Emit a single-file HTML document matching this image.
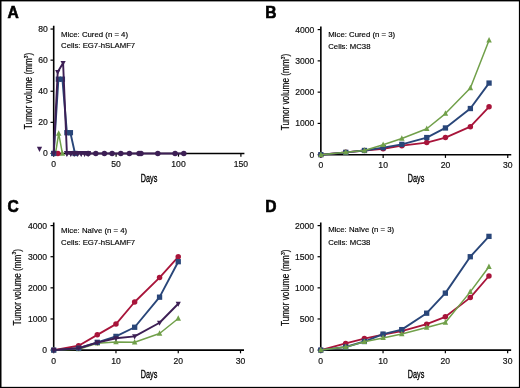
<!DOCTYPE html>
<html><head><meta charset="utf-8"><style>
html,body{margin:0;padding:0;background:#fff;}
svg{display:block;will-change:transform;}
</style></head><body>
<svg width="520" height="388" viewBox="0 0 520 388">
<rect x="0" y="0" width="520" height="388" fill="#fff"/>
<text x="7.4" y="18.0" font-family='"Liberation Sans", sans-serif' font-weight="bold" font-size="15.6" stroke="#000" stroke-width="0.6">A</text>
<path d="M53.70,25.85 L53.70,153.45 L244.40,153.45" fill="none" stroke="#000" stroke-width="1.6"/>
<line x1="53.70" y1="153.45" x2="53.70" y2="156.65" stroke="#000" stroke-width="1.2"/>
<text x="53.70" y="167.05" text-anchor="middle" font-family='"Liberation Sans", sans-serif' font-size="8.6" fill="#111" stroke="#111" stroke-width="0.18">0</text>
<line x1="116.10" y1="153.45" x2="116.10" y2="156.65" stroke="#000" stroke-width="1.2"/>
<text x="116.10" y="167.05" text-anchor="middle" font-family='"Liberation Sans", sans-serif' font-size="8.6" fill="#111" stroke="#111" stroke-width="0.18">50</text>
<line x1="178.50" y1="153.45" x2="178.50" y2="156.65" stroke="#000" stroke-width="1.2"/>
<text x="178.50" y="167.05" text-anchor="middle" font-family='"Liberation Sans", sans-serif' font-size="8.6" fill="#111" stroke="#111" stroke-width="0.18">100</text>
<line x1="240.90" y1="153.45" x2="240.90" y2="156.65" stroke="#000" stroke-width="1.2"/>
<text x="240.90" y="167.05" text-anchor="middle" font-family='"Liberation Sans", sans-serif' font-size="8.6" fill="#111" stroke="#111" stroke-width="0.18">150</text>
<line x1="50.50" y1="153.45" x2="53.70" y2="153.45" stroke="#000" stroke-width="1.2"/>
<text x="47.80" y="156.45" text-anchor="end" font-family='"Liberation Sans", sans-serif' font-size="8.6" fill="#111" stroke="#111" stroke-width="0.18">0</text>
<line x1="50.50" y1="122.35" x2="53.70" y2="122.35" stroke="#000" stroke-width="1.2"/>
<text x="47.80" y="125.35" text-anchor="end" font-family='"Liberation Sans", sans-serif' font-size="8.6" fill="#111" stroke="#111" stroke-width="0.18">20</text>
<line x1="50.50" y1="91.25" x2="53.70" y2="91.25" stroke="#000" stroke-width="1.2"/>
<text x="47.80" y="94.25" text-anchor="end" font-family='"Liberation Sans", sans-serif' font-size="8.6" fill="#111" stroke="#111" stroke-width="0.18">40</text>
<line x1="50.50" y1="60.15" x2="53.70" y2="60.15" stroke="#000" stroke-width="1.2"/>
<text x="47.80" y="63.15" text-anchor="end" font-family='"Liberation Sans", sans-serif' font-size="8.6" fill="#111" stroke="#111" stroke-width="0.18">60</text>
<line x1="50.50" y1="29.05" x2="53.70" y2="29.05" stroke="#000" stroke-width="1.2"/>
<text x="47.80" y="32.05" text-anchor="end" font-family='"Liberation Sans", sans-serif' font-size="8.6" fill="#111" stroke="#111" stroke-width="0.18">80</text>
<text x="61.10" y="36.70" font-family='"Liberation Sans", sans-serif' font-size="7.8" fill="#000" stroke="#000" stroke-width="0.15">Mice: Cured (n = 4)</text>
<text x="61.10" y="47.80" font-family='"Liberation Sans", sans-serif' font-size="7.75" fill="#000" stroke="#000" stroke-width="0.15">Cells: EG7-hSLAMF7</text>
<text transform="translate(140.80,182.20) scale(0.615,1)" font-family='"Liberation Sans", sans-serif' font-size="11.8" fill="#000" stroke="#000" stroke-width="0.35">Days</text>
<text transform="translate(32.20,90.90) rotate(-90) scale(0.8,1)" text-anchor="middle" font-family='"Liberation Sans", sans-serif' font-size="10.3" fill="#000" stroke="#000" stroke-width="0.2">Tumor volume (mm<tspan font-size="6.2" dy="-4.6">3</tspan><tspan dy="4.6">)</tspan></text>
<path d="M55.50,153.45 L58.70,133.60 L62.40,153.45" fill="none" stroke="#71a04a" stroke-width="1.5" stroke-linejoin="round"/>
<path d="M55.50,150.15 L58.25,155.65 L52.75,155.65Z" fill="#71a04a"/>
<path d="M58.70,130.30 L61.45,135.80 L55.95,135.80Z" fill="#71a04a"/>
<path d="M62.40,150.15 L65.15,155.65 L59.65,155.65Z" fill="#71a04a"/>
<path d="M57.90,153.45" fill="none" stroke="#a8143a" stroke-width="1.8" stroke-linejoin="round"/>
<circle cx="57.90" cy="153.45" r="2.75" fill="#a8143a"/>
<path d="M53.70,153.45 L58.40,79.20 L62.40,79.20 L66.90,132.70 L70.40,132.70 L75.00,153.45" fill="none" stroke="#294679" stroke-width="1.9" stroke-linejoin="round"/>
<rect x="51.05" y="150.80" width="5.30" height="5.30" fill="#294679"/>
<rect x="55.75" y="76.55" width="5.30" height="5.30" fill="#294679"/>
<rect x="59.75" y="76.55" width="5.30" height="5.30" fill="#294679"/>
<rect x="64.25" y="130.05" width="5.30" height="5.30" fill="#294679"/>
<rect x="67.75" y="130.05" width="5.30" height="5.30" fill="#294679"/>
<rect x="72.35" y="150.80" width="5.30" height="5.30" fill="#294679"/>
<path d="M53.70,153.45 L57.70,72.00 L63.10,63.00 L66.90,153.45 L70.80,153.45 L74.20,153.45 L77.70,153.45 L81.20,153.45 L84.60,153.45 L88.10,153.45" fill="none" stroke="#3d1f55" stroke-width="1.9" stroke-linejoin="round"/>
<path d="M53.70,156.55 L56.29,151.38 L51.12,151.38Z" fill="#3d1f55"/>
<path d="M57.70,75.10 L60.29,69.93 L55.12,69.93Z" fill="#3d1f55"/>
<path d="M63.10,66.10 L65.69,60.93 L60.52,60.93Z" fill="#3d1f55"/>
<path d="M66.90,156.55 L69.48,151.38 L64.32,151.38Z" fill="#3d1f55"/>
<path d="M70.80,156.55 L73.38,151.38 L68.22,151.38Z" fill="#3d1f55"/>
<path d="M74.20,156.55 L76.78,151.38 L71.62,151.38Z" fill="#3d1f55"/>
<path d="M77.70,156.55 L80.28,151.38 L75.12,151.38Z" fill="#3d1f55"/>
<path d="M81.20,156.55 L83.78,151.38 L78.62,151.38Z" fill="#3d1f55"/>
<path d="M84.60,156.55 L87.18,151.38 L82.02,151.38Z" fill="#3d1f55"/>
<path d="M88.10,156.55 L90.68,151.38 L85.52,151.38Z" fill="#3d1f55"/>
<path d="M88.10,153.45 L95.80,153.45 L104.40,153.45 L112.10,153.45 L120.80,153.45 L129.40,153.45 L139.00,153.45 L141.00,153.45 L157.80,153.45 L175.10,153.45 L183.80,153.45" fill="none" stroke="#3d1f55" stroke-width="1.9" stroke-linejoin="round"/>
<circle cx="88.10" cy="153.45" r="2.75" fill="#3d1f55"/>
<circle cx="95.80" cy="153.45" r="2.75" fill="#3d1f55"/>
<circle cx="104.40" cy="153.45" r="2.75" fill="#3d1f55"/>
<circle cx="112.10" cy="153.45" r="2.75" fill="#3d1f55"/>
<circle cx="120.80" cy="153.45" r="2.75" fill="#3d1f55"/>
<circle cx="129.40" cy="153.45" r="2.75" fill="#3d1f55"/>
<circle cx="139.00" cy="153.45" r="2.75" fill="#3d1f55"/>
<circle cx="141.00" cy="153.45" r="2.75" fill="#3d1f55"/>
<circle cx="157.80" cy="153.45" r="2.75" fill="#3d1f55"/>
<circle cx="175.10" cy="153.45" r="2.75" fill="#3d1f55"/>
<circle cx="183.80" cy="153.45" r="2.75" fill="#3d1f55"/>
<path d="M39.50,151.97 L42.14,146.69 L36.86,146.69Z" fill="#3d1f55"/>
<path d="M66.90,156.95 L69.82,151.12 L63.99,151.12Z" fill="#3d1f55"/>
<path d="M70.80,156.95 L73.72,151.12 L67.88,151.12Z" fill="#3d1f55"/>
<path d="M74.20,156.95 L77.12,151.12 L71.28,151.12Z" fill="#3d1f55"/>
<path d="M77.70,156.95 L80.62,151.12 L74.78,151.12Z" fill="#3d1f55"/>
<path d="M81.20,156.95 L84.12,151.12 L78.28,151.12Z" fill="#3d1f55"/>
<path d="M84.60,156.95 L87.52,151.12 L81.68,151.12Z" fill="#3d1f55"/>
<path d="M88.10,156.95 L91.02,151.12 L85.18,151.12Z" fill="#3d1f55"/>
<text x="265.3" y="18.0" font-family='"Liberation Sans", sans-serif' font-weight="bold" font-size="15.6" stroke="#000" stroke-width="0.6">B</text>
<path d="M320.85,26.38 L320.85,154.70 L511.25,154.70" fill="none" stroke="#000" stroke-width="1.6"/>
<line x1="320.85" y1="154.70" x2="320.85" y2="157.90" stroke="#000" stroke-width="1.2"/>
<text x="320.85" y="168.30" text-anchor="middle" font-family='"Liberation Sans", sans-serif' font-size="8.6" fill="#111" stroke="#111" stroke-width="0.18">0</text>
<line x1="383.15" y1="154.70" x2="383.15" y2="157.90" stroke="#000" stroke-width="1.2"/>
<text x="383.15" y="168.30" text-anchor="middle" font-family='"Liberation Sans", sans-serif' font-size="8.6" fill="#111" stroke="#111" stroke-width="0.18">10</text>
<line x1="445.45" y1="154.70" x2="445.45" y2="157.90" stroke="#000" stroke-width="1.2"/>
<text x="445.45" y="168.30" text-anchor="middle" font-family='"Liberation Sans", sans-serif' font-size="8.6" fill="#111" stroke="#111" stroke-width="0.18">20</text>
<line x1="507.75" y1="154.70" x2="507.75" y2="157.90" stroke="#000" stroke-width="1.2"/>
<text x="507.75" y="168.30" text-anchor="middle" font-family='"Liberation Sans", sans-serif' font-size="8.6" fill="#111" stroke="#111" stroke-width="0.18">30</text>
<line x1="317.65" y1="154.70" x2="320.85" y2="154.70" stroke="#000" stroke-width="1.2"/>
<text x="314.25" y="157.70" text-anchor="end" font-family='"Liberation Sans", sans-serif' font-size="8.6" fill="#111" stroke="#111" stroke-width="0.18">0</text>
<line x1="317.65" y1="123.42" x2="320.85" y2="123.42" stroke="#000" stroke-width="1.2"/>
<text x="314.25" y="126.42" text-anchor="end" font-family='"Liberation Sans", sans-serif' font-size="8.6" fill="#111" stroke="#111" stroke-width="0.18">1000</text>
<line x1="317.65" y1="92.14" x2="320.85" y2="92.14" stroke="#000" stroke-width="1.2"/>
<text x="314.25" y="95.14" text-anchor="end" font-family='"Liberation Sans", sans-serif' font-size="8.6" fill="#111" stroke="#111" stroke-width="0.18">2000</text>
<line x1="317.65" y1="60.86" x2="320.85" y2="60.86" stroke="#000" stroke-width="1.2"/>
<text x="314.25" y="63.86" text-anchor="end" font-family='"Liberation Sans", sans-serif' font-size="8.6" fill="#111" stroke="#111" stroke-width="0.18">3000</text>
<line x1="317.65" y1="29.58" x2="320.85" y2="29.58" stroke="#000" stroke-width="1.2"/>
<text x="314.25" y="32.58" text-anchor="end" font-family='"Liberation Sans", sans-serif' font-size="8.6" fill="#111" stroke="#111" stroke-width="0.18">4000</text>
<text x="328.25" y="36.70" font-family='"Liberation Sans", sans-serif' font-size="7.8" fill="#000" stroke="#000" stroke-width="0.15">Mice: Cured (n = 3)</text>
<text x="328.25" y="48.60" font-family='"Liberation Sans", sans-serif' font-size="7.75" fill="#000" stroke="#000" stroke-width="0.15">Cells: MC38</text>
<text transform="translate(407.80,182.20) scale(0.615,1)" font-family='"Liberation Sans", sans-serif' font-size="11.8" fill="#000" stroke="#000" stroke-width="0.35">Days</text>
<text transform="translate(289.20,92.00) rotate(-90) scale(0.8,1)" text-anchor="middle" font-family='"Liberation Sans", sans-serif' font-size="10.3" fill="#000" stroke="#000" stroke-width="0.2">Tumor volume (mm<tspan font-size="6.2" dy="-4.6">3</tspan><tspan dy="4.6">)</tspan></text>
<path d="M320.85,154.70 L345.77,152.35 L364.46,150.48 L383.15,148.76 L401.84,145.63 L426.76,142.59 L445.45,137.56 L470.37,126.70 L489.06,106.78" fill="none" stroke="#a8143a" stroke-width="1.8" stroke-linejoin="round"/>
<circle cx="320.85" cy="154.70" r="2.75" fill="#a8143a"/>
<circle cx="345.77" cy="152.35" r="2.75" fill="#a8143a"/>
<circle cx="364.46" cy="150.48" r="2.75" fill="#a8143a"/>
<circle cx="383.15" cy="148.76" r="2.75" fill="#a8143a"/>
<circle cx="401.84" cy="145.63" r="2.75" fill="#a8143a"/>
<circle cx="426.76" cy="142.59" r="2.75" fill="#a8143a"/>
<circle cx="445.45" cy="137.56" r="2.75" fill="#a8143a"/>
<circle cx="470.37" cy="126.70" r="2.75" fill="#a8143a"/>
<circle cx="489.06" cy="106.78" r="2.75" fill="#a8143a"/>
<path d="M320.85,154.70 L345.77,152.35 L364.46,150.48 L383.15,147.66 L401.84,144.38 L426.76,137.56 L445.45,127.96 L470.37,108.53 L489.06,83.07" fill="none" stroke="#294679" stroke-width="1.9" stroke-linejoin="round"/>
<rect x="318.20" y="152.05" width="5.30" height="5.30" fill="#294679"/>
<rect x="343.12" y="149.70" width="5.30" height="5.30" fill="#294679"/>
<rect x="361.81" y="147.83" width="5.30" height="5.30" fill="#294679"/>
<rect x="380.50" y="145.01" width="5.30" height="5.30" fill="#294679"/>
<rect x="399.19" y="141.73" width="5.30" height="5.30" fill="#294679"/>
<rect x="424.11" y="134.91" width="5.30" height="5.30" fill="#294679"/>
<rect x="442.80" y="125.31" width="5.30" height="5.30" fill="#294679"/>
<rect x="467.72" y="105.88" width="5.30" height="5.30" fill="#294679"/>
<rect x="486.41" y="80.42" width="5.30" height="5.30" fill="#294679"/>
<path d="M320.85,154.70 L345.77,152.35 L364.46,150.48 L383.15,144.69 L401.84,138.43 L426.76,128.71 L445.45,113.57 L470.37,88.10 L489.06,40.22" fill="none" stroke="#71a04a" stroke-width="1.5" stroke-linejoin="round"/>
<path d="M320.85,151.40 L323.60,156.90 L318.10,156.90Z" fill="#71a04a"/>
<path d="M345.77,149.05 L348.52,154.55 L343.02,154.55Z" fill="#71a04a"/>
<path d="M364.46,147.18 L367.21,152.68 L361.71,152.68Z" fill="#71a04a"/>
<path d="M383.15,141.39 L385.90,146.89 L380.40,146.89Z" fill="#71a04a"/>
<path d="M401.84,135.13 L404.59,140.63 L399.09,140.63Z" fill="#71a04a"/>
<path d="M426.76,125.41 L429.51,130.91 L424.01,130.91Z" fill="#71a04a"/>
<path d="M445.45,110.27 L448.20,115.77 L442.70,115.77Z" fill="#71a04a"/>
<path d="M470.37,84.80 L473.12,90.30 L467.62,90.30Z" fill="#71a04a"/>
<path d="M489.06,36.92 L491.81,42.42 L486.31,42.42Z" fill="#71a04a"/>
<text x="7.5" y="211.6" font-family='"Liberation Sans", sans-serif' font-weight="bold" font-size="15.6" stroke="#000" stroke-width="0.6">C</text>
<path d="M53.70,222.38 L53.70,350.10 L244.01,350.10" fill="none" stroke="#000" stroke-width="1.6"/>
<line x1="53.70" y1="350.10" x2="53.70" y2="353.30" stroke="#000" stroke-width="1.2"/>
<text x="53.70" y="363.70" text-anchor="middle" font-family='"Liberation Sans", sans-serif' font-size="8.6" fill="#111" stroke="#111" stroke-width="0.18">0</text>
<line x1="115.97" y1="350.10" x2="115.97" y2="353.30" stroke="#000" stroke-width="1.2"/>
<text x="115.97" y="363.70" text-anchor="middle" font-family='"Liberation Sans", sans-serif' font-size="8.6" fill="#111" stroke="#111" stroke-width="0.18">10</text>
<line x1="178.24" y1="350.10" x2="178.24" y2="353.30" stroke="#000" stroke-width="1.2"/>
<text x="178.24" y="363.70" text-anchor="middle" font-family='"Liberation Sans", sans-serif' font-size="8.6" fill="#111" stroke="#111" stroke-width="0.18">20</text>
<line x1="240.51" y1="350.10" x2="240.51" y2="353.30" stroke="#000" stroke-width="1.2"/>
<text x="240.51" y="363.70" text-anchor="middle" font-family='"Liberation Sans", sans-serif' font-size="8.6" fill="#111" stroke="#111" stroke-width="0.18">30</text>
<line x1="50.50" y1="350.10" x2="53.70" y2="350.10" stroke="#000" stroke-width="1.2"/>
<text x="47.10" y="353.10" text-anchor="end" font-family='"Liberation Sans", sans-serif' font-size="8.6" fill="#111" stroke="#111" stroke-width="0.18">0</text>
<line x1="50.50" y1="318.97" x2="53.70" y2="318.97" stroke="#000" stroke-width="1.2"/>
<text x="47.10" y="321.97" text-anchor="end" font-family='"Liberation Sans", sans-serif' font-size="8.6" fill="#111" stroke="#111" stroke-width="0.18">1000</text>
<line x1="50.50" y1="287.84" x2="53.70" y2="287.84" stroke="#000" stroke-width="1.2"/>
<text x="47.10" y="290.84" text-anchor="end" font-family='"Liberation Sans", sans-serif' font-size="8.6" fill="#111" stroke="#111" stroke-width="0.18">2000</text>
<line x1="50.50" y1="256.71" x2="53.70" y2="256.71" stroke="#000" stroke-width="1.2"/>
<text x="47.10" y="259.71" text-anchor="end" font-family='"Liberation Sans", sans-serif' font-size="8.6" fill="#111" stroke="#111" stroke-width="0.18">3000</text>
<line x1="50.50" y1="225.58" x2="53.70" y2="225.58" stroke="#000" stroke-width="1.2"/>
<text x="47.10" y="228.58" text-anchor="end" font-family='"Liberation Sans", sans-serif' font-size="8.6" fill="#111" stroke="#111" stroke-width="0.18">4000</text>
<text x="61.10" y="232.70" font-family='"Liberation Sans", sans-serif' font-size="7.8" fill="#000" stroke="#000" stroke-width="0.15">Mice: Na&#239;ve (n = 4)</text>
<text x="61.10" y="244.80" font-family='"Liberation Sans", sans-serif' font-size="7.75" fill="#000" stroke="#000" stroke-width="0.15">Cells: EG7-hSLAMF7</text>
<text transform="translate(140.80,378.30) scale(0.615,1)" font-family='"Liberation Sans", sans-serif' font-size="11.8" fill="#000" stroke="#000" stroke-width="0.35">Days</text>
<text transform="translate(20.80,287.30) rotate(-90) scale(0.8,1)" text-anchor="middle" font-family='"Liberation Sans", sans-serif' font-size="10.3" fill="#000" stroke="#000" stroke-width="0.2">Tumor volume (mm<tspan font-size="6.2" dy="-4.6">3</tspan><tspan dy="4.6">)</tspan></text>
<path d="M53.70,350.10 L78.61,345.74 L97.29,334.85 L115.97,324.11 L134.65,302.00 L159.56,277.57 L178.24,256.87" fill="none" stroke="#a8143a" stroke-width="1.8" stroke-linejoin="round"/>
<circle cx="53.70" cy="350.10" r="2.75" fill="#a8143a"/>
<circle cx="78.61" cy="345.74" r="2.75" fill="#a8143a"/>
<circle cx="97.29" cy="334.85" r="2.75" fill="#a8143a"/>
<circle cx="115.97" cy="324.11" r="2.75" fill="#a8143a"/>
<circle cx="134.65" cy="302.00" r="2.75" fill="#a8143a"/>
<circle cx="159.56" cy="277.57" r="2.75" fill="#a8143a"/>
<circle cx="178.24" cy="256.87" r="2.75" fill="#a8143a"/>
<path d="M53.70,350.10 L78.61,349.17 L97.29,343.25 L115.97,342.01 L134.65,342.32 L159.56,333.54 L178.24,318.47" fill="none" stroke="#71a04a" stroke-width="1.5" stroke-linejoin="round"/>
<path d="M53.70,346.80 L56.45,352.30 L50.95,352.30Z" fill="#71a04a"/>
<path d="M78.61,345.87 L81.36,351.37 L75.86,351.37Z" fill="#71a04a"/>
<path d="M97.29,339.95 L100.04,345.45 L94.54,345.45Z" fill="#71a04a"/>
<path d="M115.97,338.71 L118.72,344.21 L113.22,344.21Z" fill="#71a04a"/>
<path d="M134.65,339.02 L137.40,344.52 L131.90,344.52Z" fill="#71a04a"/>
<path d="M159.56,330.24 L162.31,335.74 L156.81,335.74Z" fill="#71a04a"/>
<path d="M178.24,315.17 L180.99,320.67 L175.49,320.67Z" fill="#71a04a"/>
<path d="M53.70,350.10 L78.61,348.23 L97.29,342.32 L115.97,336.40 L134.65,327.25 L159.56,297.18 L178.24,261.69" fill="none" stroke="#294679" stroke-width="1.9" stroke-linejoin="round"/>
<rect x="51.05" y="347.45" width="5.30" height="5.30" fill="#294679"/>
<rect x="75.96" y="345.58" width="5.30" height="5.30" fill="#294679"/>
<rect x="94.64" y="339.67" width="5.30" height="5.30" fill="#294679"/>
<rect x="113.32" y="333.75" width="5.30" height="5.30" fill="#294679"/>
<rect x="132.00" y="324.60" width="5.30" height="5.30" fill="#294679"/>
<rect x="156.91" y="294.53" width="5.30" height="5.30" fill="#294679"/>
<rect x="175.59" y="259.04" width="5.30" height="5.30" fill="#294679"/>
<path d="M53.70,350.10 L78.61,348.23 L97.29,342.63 L115.97,338.27 L134.65,336.40 L159.56,322.71 L178.24,303.72" fill="none" stroke="#3d1f55" stroke-width="1.9" stroke-linejoin="round"/>
<path d="M53.70,353.20 L56.29,348.03 L51.12,348.03Z" fill="#3d1f55"/>
<path d="M78.61,351.33 L81.19,346.16 L76.02,346.16Z" fill="#3d1f55"/>
<path d="M97.29,345.73 L99.87,340.56 L94.70,340.56Z" fill="#3d1f55"/>
<path d="M115.97,341.37 L118.55,336.20 L113.39,336.20Z" fill="#3d1f55"/>
<path d="M134.65,339.50 L137.24,334.33 L132.07,334.33Z" fill="#3d1f55"/>
<path d="M159.56,325.81 L162.14,320.64 L156.97,320.64Z" fill="#3d1f55"/>
<path d="M178.24,306.82 L180.83,301.65 L175.66,301.65Z" fill="#3d1f55"/>
<text x="265.3" y="211.6" font-family='"Liberation Sans", sans-serif' font-weight="bold" font-size="15.6" stroke="#000" stroke-width="0.6">D</text>
<path d="M320.75,222.40 L320.75,350.10 L511.15,350.10" fill="none" stroke="#000" stroke-width="1.6"/>
<line x1="320.75" y1="350.10" x2="320.75" y2="353.30" stroke="#000" stroke-width="1.2"/>
<text x="320.75" y="363.70" text-anchor="middle" font-family='"Liberation Sans", sans-serif' font-size="8.6" fill="#111" stroke="#111" stroke-width="0.18">0</text>
<line x1="383.05" y1="350.10" x2="383.05" y2="353.30" stroke="#000" stroke-width="1.2"/>
<text x="383.05" y="363.70" text-anchor="middle" font-family='"Liberation Sans", sans-serif' font-size="8.6" fill="#111" stroke="#111" stroke-width="0.18">10</text>
<line x1="445.35" y1="350.10" x2="445.35" y2="353.30" stroke="#000" stroke-width="1.2"/>
<text x="445.35" y="363.70" text-anchor="middle" font-family='"Liberation Sans", sans-serif' font-size="8.6" fill="#111" stroke="#111" stroke-width="0.18">20</text>
<line x1="507.65" y1="350.10" x2="507.65" y2="353.30" stroke="#000" stroke-width="1.2"/>
<text x="507.65" y="363.70" text-anchor="middle" font-family='"Liberation Sans", sans-serif' font-size="8.6" fill="#111" stroke="#111" stroke-width="0.18">30</text>
<line x1="317.55" y1="350.10" x2="320.75" y2="350.10" stroke="#000" stroke-width="1.2"/>
<text x="314.15" y="353.10" text-anchor="end" font-family='"Liberation Sans", sans-serif' font-size="8.6" fill="#111" stroke="#111" stroke-width="0.18">0</text>
<line x1="317.55" y1="318.98" x2="320.75" y2="318.98" stroke="#000" stroke-width="1.2"/>
<text x="314.15" y="321.98" text-anchor="end" font-family='"Liberation Sans", sans-serif' font-size="8.6" fill="#111" stroke="#111" stroke-width="0.18">500</text>
<line x1="317.55" y1="287.85" x2="320.75" y2="287.85" stroke="#000" stroke-width="1.2"/>
<text x="314.15" y="290.85" text-anchor="end" font-family='"Liberation Sans", sans-serif' font-size="8.6" fill="#111" stroke="#111" stroke-width="0.18">1000</text>
<line x1="317.55" y1="256.73" x2="320.75" y2="256.73" stroke="#000" stroke-width="1.2"/>
<text x="314.15" y="259.73" text-anchor="end" font-family='"Liberation Sans", sans-serif' font-size="8.6" fill="#111" stroke="#111" stroke-width="0.18">1500</text>
<line x1="317.55" y1="225.60" x2="320.75" y2="225.60" stroke="#000" stroke-width="1.2"/>
<text x="314.15" y="228.60" text-anchor="end" font-family='"Liberation Sans", sans-serif' font-size="8.6" fill="#111" stroke="#111" stroke-width="0.18">2000</text>
<text x="328.15" y="232.30" font-family='"Liberation Sans", sans-serif' font-size="7.8" fill="#000" stroke="#000" stroke-width="0.15">Mice: Na&#239;ve (n = 3)</text>
<text x="328.15" y="244.80" font-family='"Liberation Sans", sans-serif' font-size="7.75" fill="#000" stroke="#000" stroke-width="0.15">Cells: MC38</text>
<text transform="translate(407.80,378.30) scale(0.615,1)" font-family='"Liberation Sans", sans-serif' font-size="11.8" fill="#000" stroke="#000" stroke-width="0.35">Days</text>
<text transform="translate(289.10,287.80) rotate(-90) scale(0.8,1)" text-anchor="middle" font-family='"Liberation Sans", sans-serif' font-size="10.3" fill="#000" stroke="#000" stroke-width="0.2">Tumor volume (mm<tspan font-size="6.2" dy="-4.6">3</tspan><tspan dy="4.6">)</tspan></text>
<path d="M320.75,350.10 L345.67,343.44 L364.36,338.58 L383.05,334.54 L401.74,331.11 L426.66,324.14 L445.35,316.80 L470.27,297.62 L488.96,276.02" fill="none" stroke="#a8143a" stroke-width="1.8" stroke-linejoin="round"/>
<circle cx="320.75" cy="350.10" r="2.75" fill="#a8143a"/>
<circle cx="345.67" cy="343.44" r="2.75" fill="#a8143a"/>
<circle cx="364.36" cy="338.58" r="2.75" fill="#a8143a"/>
<circle cx="383.05" cy="334.54" r="2.75" fill="#a8143a"/>
<circle cx="401.74" cy="331.11" r="2.75" fill="#a8143a"/>
<circle cx="426.66" cy="324.14" r="2.75" fill="#a8143a"/>
<circle cx="445.35" cy="316.80" r="2.75" fill="#a8143a"/>
<circle cx="470.27" cy="297.62" r="2.75" fill="#a8143a"/>
<circle cx="488.96" cy="276.02" r="2.75" fill="#a8143a"/>
<path d="M320.75,350.10 L345.67,346.99 L364.36,341.51 L383.05,334.10 L401.74,329.62 L426.66,313.19 L445.35,293.14 L470.27,256.73 L488.96,236.37" fill="none" stroke="#294679" stroke-width="1.9" stroke-linejoin="round"/>
<rect x="318.10" y="347.45" width="5.30" height="5.30" fill="#294679"/>
<rect x="343.02" y="344.34" width="5.30" height="5.30" fill="#294679"/>
<rect x="361.71" y="338.86" width="5.30" height="5.30" fill="#294679"/>
<rect x="380.40" y="331.45" width="5.30" height="5.30" fill="#294679"/>
<rect x="399.09" y="326.97" width="5.30" height="5.30" fill="#294679"/>
<rect x="424.01" y="310.54" width="5.30" height="5.30" fill="#294679"/>
<rect x="442.70" y="290.49" width="5.30" height="5.30" fill="#294679"/>
<rect x="467.62" y="254.08" width="5.30" height="5.30" fill="#294679"/>
<rect x="486.31" y="233.72" width="5.30" height="5.30" fill="#294679"/>
<path d="M320.75,350.10 L345.67,347.11 L364.36,341.70 L383.05,337.90 L401.74,334.04 L426.66,327.50 L445.35,322.46 L470.27,291.90 L488.96,266.75" fill="none" stroke="#71a04a" stroke-width="1.5" stroke-linejoin="round"/>
<path d="M320.75,346.80 L323.50,352.30 L318.00,352.30Z" fill="#71a04a"/>
<path d="M345.67,343.81 L348.42,349.31 L342.92,349.31Z" fill="#71a04a"/>
<path d="M364.36,338.40 L367.11,343.90 L361.61,343.90Z" fill="#71a04a"/>
<path d="M383.05,334.60 L385.80,340.10 L380.30,340.10Z" fill="#71a04a"/>
<path d="M401.74,330.74 L404.49,336.24 L398.99,336.24Z" fill="#71a04a"/>
<path d="M426.66,324.20 L429.41,329.70 L423.91,329.70Z" fill="#71a04a"/>
<path d="M445.35,319.16 L448.10,324.66 L442.60,324.66Z" fill="#71a04a"/>
<path d="M470.27,288.60 L473.02,294.10 L467.52,294.10Z" fill="#71a04a"/>
<path d="M488.96,263.45 L491.71,268.95 L486.21,268.95Z" fill="#71a04a"/>
<rect x="0" y="0" width="1.5" height="388" fill="#000"/><rect x="0" y="0" width="520" height="1.4" fill="#000"/><rect x="518.9" y="0" width="1.1" height="388" fill="#000"/><rect x="0" y="386.85" width="520" height="1.15" fill="#000"/>
</svg>
</body></html>
